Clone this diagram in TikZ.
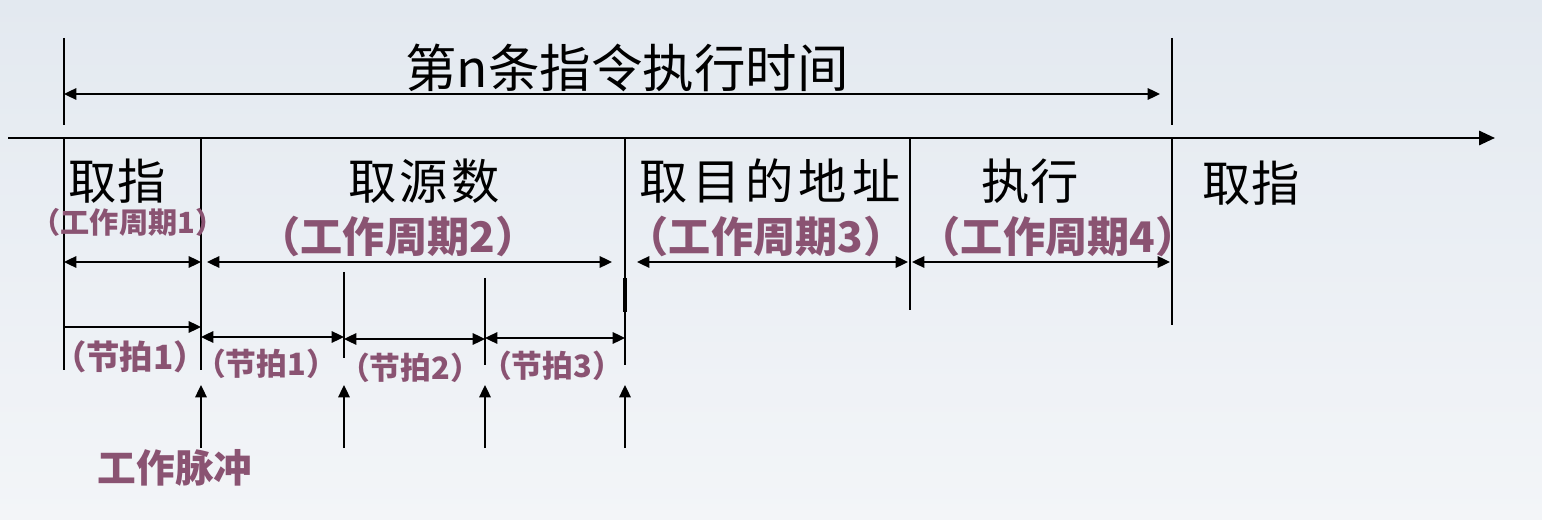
\documentclass[tikz,border=0pt]{standalone}
\usepackage{fontspec}
\setmainfont{Noto Sans CJK SC}
\usetikzlibrary{arrows.meta,calc}
\definecolor{beat}{HTML}{8A5372}
\definecolor{skytop}{HTML}{E3E9F0}
\definecolor{skybot}{HTML}{F3F5F8}

\tikzset{
  tick/.style={line width=1.1pt},
  span/.style={{Triangle[length=7pt,width=6.5pt]}-{Triangle[length=7pt,width=6.5pt]},line width=1.1pt},
  pulse/.style={-{Triangle[length=7pt,width=6.5pt]},line width=1.1pt},
  phase/.style={inner sep=0pt,font=\fontsize{27.5}{32}\selectfont},
  cycle/.style={inner sep=0pt,text=beat,font=\fontsize{24}{28}\selectfont\bfseries},
  beatlbl/.style={inner sep=0pt,text=beat,font=\fontsize{17.5}{21}\selectfont\bfseries}
}

\begin{document}
\begin{tikzpicture}[x=0.02cm,y=-0.02cm]
  % sky background
  \shade[top color=skytop,bottom color=skybot] (0,0) rectangle (1542,520);
  \useasboundingbox (0,0) rectangle (1542,520);

  % time marks on the axis
  \foreach \n/\x in {m0/64,m1/201,m2/344,m3/485,m4/625,m5/910,m6/1172}
    \coordinate (\n) at (\x,138);
  \coordinate (axl) at (8,138);
  \coordinate (axr) at (1495,138);

  % instruction time
  \draw[line width=0.9pt] ($(m0)+(0,-100)$) -- ($(m0)+(0,-13)$);
  \draw[line width=0.9pt] ($(m6)+(0,-100)$) -- ($(m6)+(0,-13)$);
  \draw[span] ($(m0)+(0,-44)$) -- ($(m6)+(-12,-44)$);
  \node[inner sep=0pt,font=\fontsize{29.3}{35}\selectfont] (title) at (627,68) {第n条指令执行时间};

  % time axis
  \draw[-{Triangle[length=9pt,width=8pt]},line width=1.4pt] (axl) -- (axr);

  % cycle boundaries
  \draw[tick] (m0) -- ($(m0)+(0,232)$);
  \draw[tick] (m1) -- ($(m1)+(0,232)$);
  \draw[tick] ($(m2)+(0,134)$) -- ($(m2)+(0,220)$);
  \draw[tick] ($(m3)+(0,140)$) -- ($(m3)+(0,227)$);
  \draw[tick] (m4) -- ($(m4)+(0,227)$);
  \draw[line width=2.2pt] ($(m4)+(0,140)$) -- ($(m4)+(0,174)$);
  \draw[tick] (m5) -- ($(m5)+(0,172)$);
  \draw[tick] (m6) -- ($(m6)+(0,187)$);

  % phases
  \node[phase] (p1) at (117,181) {取指};
  \node[phase] (p2) at (424,181) {\addfontfeature{LetterSpace=6}取源数};
  \node[phase] (p3) at (770,181) {\addfontfeature{LetterSpace=10}取目的地址};
  \node[phase] (p4) at (1030,181) {执行};
  \node[phase] (p5) at (1251,183) {取指};

  % work cycles
  \node[cycle,font=\fontsize{16.6}{20}\selectfont\bfseries] (c1) at (128,222) {（工作周期1）};
  \node[cycle] (c2) at (398,236) {（工作周期2）};
  \node[cycle] (c3) at (766,236) {（工作周期3）};
  \node[cycle] (c4) at (1058,236) {（工作周期4）};
  \draw[span] ($(m0)+(0,124)$) -- ($(m1)+(0,124)$);
  \draw[span] ($(m1)+(6,124)$) -- ($(m4)+(-13,124)$);
  \draw[span] ($(m4)+(12,124)$) -- ($(m5)+(-2,124)$);
  \draw[span] ($(m5)+(2,124)$) -- ($(m6)+(-2,124)$);

  % beats
  \draw[pulse] ($(m0)+(0,189)$) -- ($(m1)+(0,189)$);
  \draw[span] ($(m1)+(0,199)$) -- ($(m2)+(0,199)$);
  \draw[span] ($(m2)+(0,201)$) -- ($(m3)+(0,201)$);
  \draw[span] ($(m3)+(0,200)$) -- ($(m4)+(0,200)$);
  \node[beatlbl,font=\fontsize{19}{23}\selectfont\bfseries] (b0) at (130,357) {（节拍1）};
  \node[beatlbl] (b1) at (266,364) {（节拍1）};
  \node[beatlbl] (b2) at (410,368) {（节拍2）};
  \node[beatlbl] (b3) at (552,366) {（节拍3）};

  % work pulses
  \foreach \n in {m1,m2,m3,m4}
    \draw[pulse] ($(\n)+(0,310)$) -- ($(\n)+(0,247)$);
  \node[inner sep=0pt,text=beat,font=\fontsize{22}{26}\selectfont\bfseries] (wp) at (175,468) {工作脉冲};
\end{tikzpicture}
\end{document}
